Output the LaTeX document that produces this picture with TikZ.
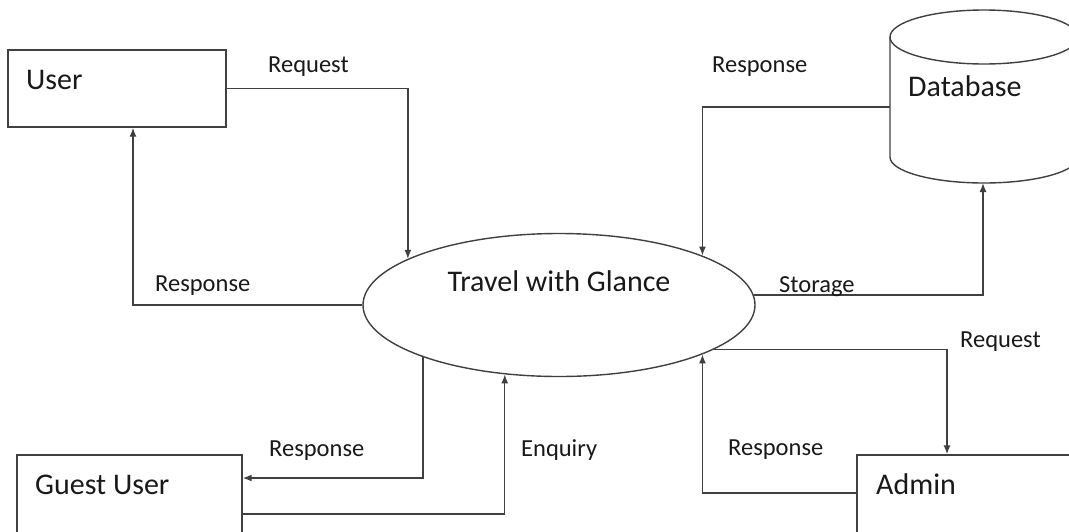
\documentclass[tikz,border=0pt]{standalone}
\usepackage{fontspec}
\setmainfont{Carlito}
\usetikzlibrary{arrows.meta,shapes.geometric}

\begin{document}
\begin{tikzpicture}[x=1pt,y=-1pt,
	flow/.style={draw=black!75,line width=1.4pt,-{Latex[length=9pt,width=7pt]}},
	box/.style={draw=black!75,line width=1.4pt,rectangle,inner sep=0pt},
	lbl/.style={anchor=base west,inner sep=0pt,font=\fontsize{24.5}{28}\selectfont,text=black!90},
	boxtext/.style={anchor=base west,inner sep=0pt,font=\fontsize{30}{34}\selectfont,text=black!90}]
	\clip (0,0) rectangle (1069,531);
	% the entities
	\node[box,minimum width=218pt,minimum height=77pt] (user) at (117,88.5){};
	\node[boxtext] (usertxt) at (26,89){User};
	\node[box,minimum width=225pt,minimum height=86pt] (guest) at (129.5,498){};
	\node[boxtext] (guesttxt) at (35,494){Guest User};
	\node[box,minimum width=218pt,minimum height=86pt] (admin) at (966,498){};
	\node[boxtext] (admintxt) at (876,494){Admin};
	% the process
	\node[draw=black!75,line width=1.4pt,ellipse,minimum width=392pt,minimum height=143pt,inner sep=0pt,
		text height=21pt,text depth=49pt,font=\fontsize{30}{34}\selectfont,text=black!90] (twg) at (559,305){Travel with Glance};
	% the store
	\draw[draw=black!75,line width=1.4pt] (890,37) -- (890,157) arc[start angle=180,end angle=360,x radius=94pt,y radius=26pt] -- (1078,37);
	\draw[draw=black!75,line width=1.4pt] (984,37) ellipse [x radius=94pt,y radius=27pt];
	\node[boxtext] (dbtxt) at (908,96){Database};
	\coordinate (dbw) at (890,107);
	\coordinate (dbs) at (983,183);
	% flows
	\draw[flow] (user.east) -| (twg.163);
	\draw[flow] (twg.west) -| ([xshift=16pt]user.south);
	\draw[flow] (dbw) -| (twg.19);
	\draw[flow] (twg.3) -| (dbs);
	\draw[flow] (twg.-16) -| ([xshift=-19pt]admin.north);
	\draw[flow] ([yshift=5pt]admin.west) -| (twg.-19);
	\draw[flow] (twg.201) |- ([yshift=20pt]guest.east);
	\draw[flow] ([yshift=-16pt]guest.east) -| (twg.232);
	% labels
	\node[lbl] at (268,72){Request};
	\node[lbl] at (155,291){Response};
	\node[lbl] at (712,72){Response};
	\node[lbl] at (779,292){Storage};
	\node[lbl] at (269,456){Response};
	\node[lbl] at (521,456){Enquiry};
	\node[lbl] at (960,347){Request};
	\node[lbl] at (728,455){Response};
\end{tikzpicture}
\end{document}
